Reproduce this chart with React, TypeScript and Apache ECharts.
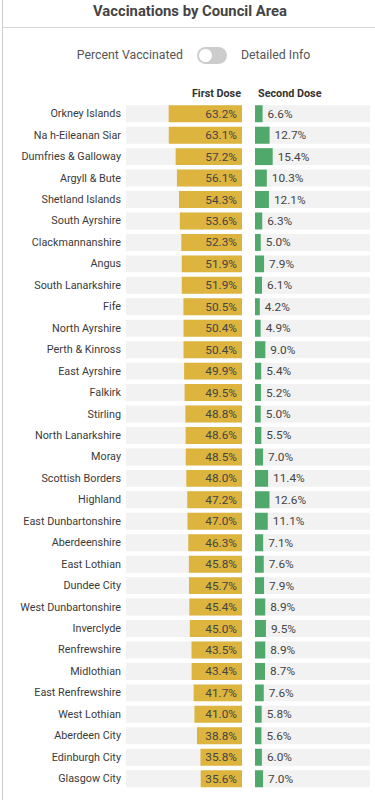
import React, { useEffect, useRef } from "react";
import * as echarts from "echarts";

const areas = [
  "Orkney Islands", "Na h-Eileanan Siar", "Dumfries & Galloway", "Argyll & Bute", "Shetland Islands",
  "South Ayrshire", "Clackmannanshire", "Angus", "South Lanarkshire", "Fife", "North Ayrshire",
  "Perth & Kinross", "East Ayrshire", "Falkirk", "Stirling", "North Lanarkshire", "Moray",
  "Scottish Borders", "Highland", "East Dunbartonshire", "Aberdeenshire", "East Lothian",
  "Dundee City", "West Dunbartonshire", "Inverclyde", "Renfrewshire", "Midlothian",
  "East Renfrewshire", "West Lothian", "Aberdeen City", "Edinburgh City", "Glasgow City",
];
const firstDose = [
  63.2, 63.1, 57.2, 56.1, 54.3, 53.6, 52.3, 51.9, 51.9, 50.5, 50.4, 50.4, 49.9, 49.5, 48.8, 48.6,
  48.5, 48.0, 47.2, 47.0, 46.3, 45.8, 45.7, 45.4, 45.0, 43.5, 43.4, 41.7, 41.0, 38.8, 35.8, 35.6,
];
const secondDose = [
  6.6, 12.7, 15.4, 10.3, 12.1, 6.3, 5.0, 7.9, 6.1, 4.2, 4.9, 9.0, 5.4, 5.2, 5.0, 5.5,
  7.0, 11.4, 12.6, 11.1, 7.1, 7.6, 7.9, 8.9, 9.5, 8.9, 8.7, 7.6, 5.8, 5.6, 6.0, 7.0,
];
const headers = ["First Dose", "Second Dose"];
const toggleLabels = ["Percent Vaccinated", "Detailed Info"];
const titleText = "Vaccinations by Council Area";

export default function App() {
  const ref = useRef<HTMLDivElement>(null);
  useEffect(() => {
    if (!ref.current) return;
    const chart = echarts.init(ref.current, null, { renderer: "svg" });
    const font = "Roboto, 'Noto Sans', sans-serif";
    const top = 103;
    const rowH = 21.45;
    const gridH = rowH * areas.length;
    chart.setOption({
      animation: false,
      backgroundColor: "#ffffff",
      textStyle: { fontFamily: font },
      grid: [
        { left: 126, width: 116, top, height: gridH },
        { left: 255, width: 115, top, height: gridH },
      ],
      xAxis: [
        { gridIndex: 0, type: "value", min: 0, max: 100, inverse: true, show: false },
        { gridIndex: 1, type: "value", min: 0, max: 100, show: false },
      ],
      yAxis: [
        {
          gridIndex: 0, type: "category", data: areas, inverse: true,
          axisLine: { show: false }, axisTick: { show: false },
          axisLabel: { color: "#3a3a3a", fontSize: 10.8, margin: 5, fontFamily: font },
        },
        {
          gridIndex: 1, type: "category", data: areas, inverse: true,
          axisLine: { show: false }, axisTick: { show: false }, axisLabel: { show: false },
        },
      ],
      series: [
        {
          type: "bar", xAxisIndex: 0, yAxisIndex: 0, data: firstDose, barCategoryGap: "21%",
          itemStyle: { color: "#dcb43e" },
          showBackground: true, backgroundStyle: { color: "#f2f2f2" },
          label: {
            show: true, position: "insideRight", distance: 5, color: "#444", fontSize: 11.8,
            fontFamily: font, formatter: (p: any) => p.value.toFixed(1) + "%",
          },
        },
        {
          type: "bar", xAxisIndex: 1, yAxisIndex: 1, data: secondDose, barCategoryGap: "21%",
          itemStyle: { color: "#50a96a" },
          showBackground: true, backgroundStyle: { color: "#f2f2f2" },
          label: {
            show: true, position: "right", distance: 5, color: "#444", fontSize: 11.8,
            fontFamily: font, formatter: (p: any) => p.value.toFixed(1) + "%",
          },
        },
      ],
      graphic: [
        { type: "line", shape: { x1: 2.5, y1: 0, x2: 2.5, y2: 800 }, style: { stroke: "#cfcfcf", lineWidth: 1 } },
        { type: "line", shape: { x1: 3, y1: 27.5, x2: 375, y2: 27.5 }, style: { stroke: "#d6d6d6", lineWidth: 1 } },
        {
          type: "text", x: 190, y: 11,
          style: { text: titleText, fontSize: 14.8, fontWeight: "bold", fill: "#444", fontFamily: font, align: "center", verticalAlign: "middle" },
        },
        {
          type: "text", x: 183, y: 55,
          style: { text: toggleLabels[0], fontSize: 12.3, fill: "#555", fontFamily: font, align: "right", verticalAlign: "middle" },
        },
        { type: "rect", shape: { x: 197, y: 47, width: 30, height: 17, r: 8.5 }, style: { fill: "#cccccc" } },
        { type: "circle", shape: { cx: 205.5, cy: 55.5, r: 6.5 }, style: { fill: "#ffffff" } },
        {
          type: "text", x: 241, y: 55,
          style: { text: toggleLabels[1], fontSize: 12.3, fill: "#555", fontFamily: font, align: "left", verticalAlign: "middle" },
        },
        {
          type: "text", x: 241, y: 93,
          style: { text: headers[0], fontSize: 10.8, fontWeight: "bold", fill: "#333", fontFamily: font, align: "right", verticalAlign: "middle" },
        },
        {
          type: "text", x: 258, y: 93,
          style: { text: headers[1], fontSize: 10.8, fontWeight: "bold", fill: "#333", fontFamily: font, align: "left", verticalAlign: "middle" },
        },
      ],
    });
    return () => chart.dispose();
  }, []);
  return <div ref={ref} style={{ position: "fixed", left: 0, top: 0, width: 375, height: 800 }} />;
}
